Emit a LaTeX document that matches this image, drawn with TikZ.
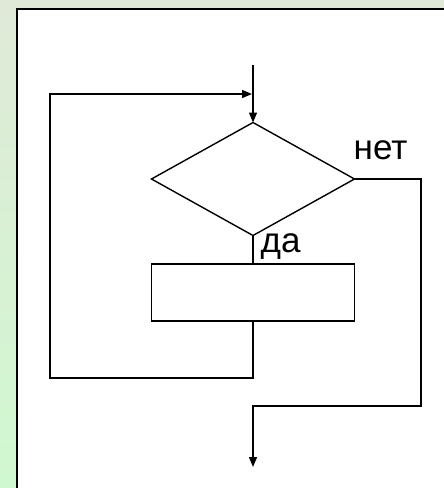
\documentclass[tikz,border=0pt]{standalone}
\usepackage{fontspec}
\setmainfont{Liberation Sans}
\usetikzlibrary{shapes.geometric,arrows.meta}
\definecolor{bgtop}{RGB}{224,233,216}
\definecolor{bgbot}{RGB}{208,248,208}

\begin{document}
\begin{tikzpicture}[x=1pt,y=-1pt,line width=1.4pt,
  flow/.style={-{Triangle[length=10pt,width=8pt]}},
  lbl/.style={font=\fontsize{35}{40}\selectfont,inner sep=0,anchor=base west}]
\useasboundingbox (0,0) rectangle (444,488);
\shade[top color=bgtop,bottom color=bgbot] (0,0) rectangle (444,488);
\fill[white] (17,9) rectangle (444,488);
\draw[line width=2pt] (17,488) -- (17,9) -- (444,9);
\node[diamond,draw,minimum width=203pt,minimum height=113pt,inner sep=0,outer sep=0] (cond) at (253,179) {};
\node[rectangle,draw,minimum width=203pt,minimum height=57pt,inner sep=0,outer sep=0] (body) at (253,292.5) {};
\coordinate (in) at (253,65);
\coordinate (back) at (50,378);
\coordinate (join) at (252,94);
\coordinate (side) at (421,406);
\coordinate (turn) at (253,406);
\coordinate (out) at (253,467);
\draw[flow] (in) -- (cond.north);
\draw (cond.south) -- (body.north);
\draw[flow] (body.south) |- (back) |- (join);
\draw[flow] (cond.east) -| (side) -- (turn) -- (out);
\node[lbl] (no) at (353,159) {нет};
\node[lbl] (yes) at (260,252) {да};
\end{tikzpicture}
\end{document}
